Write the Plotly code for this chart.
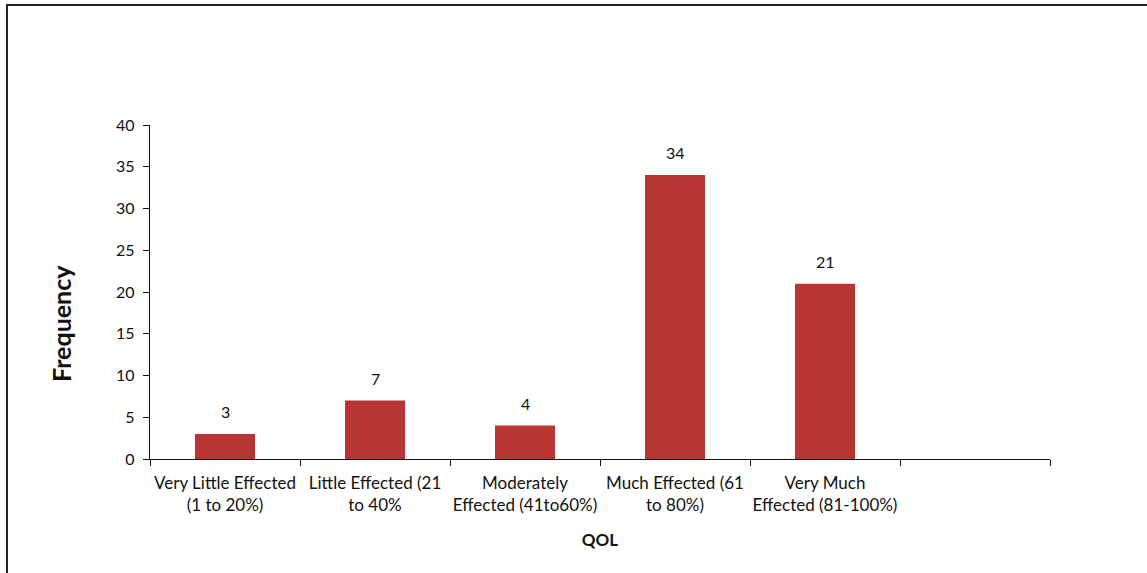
import plotly.graph_objects as go

# QOL categories and respondent counts
categories = [
    "Very Little Effected<br>(1 to 20%)",
    "Little Effected (21<br>to 40%",
    "Moderately<br>Effected (41to60%)",
    "Much Effected (61<br>to 80%)",
    "Very Much<br>Effected (81-100%)",
]
frequency = [3, 7, 4, 34, 21]
# an extra empty slot on the right of the category axis
axis_slots = categories + [" "]
y_ticks = [0, 5, 10, 15, 20, 25, 30, 35, 40]

W, H = 1147, 573
ML, MR, MT, MB = 150, 97, 125, 114
PW, PH = W - ML - MR, H - MT - MB


def px_x(px):
    return (px - ML) / PW


def px_y(py):
    return (H - MB - py) / PH


FONT = "Lato, 'Liberation Sans', Arial, sans-serif"
INK = "#111111"

fig = go.Figure()
fig.add_trace(go.Bar(
    x=categories,
    y=frequency,
    width=0.4,
    marker=dict(color="#b73532", line=dict(width=0)),
    hoverinfo="x+y",
))

for c, v in zip(categories, frequency):
    fig.add_annotation(
        x=c, y=v, xref="x", yref="y", text=str(v), showarrow=False,
        yanchor="bottom", yshift=11, font=dict(family=FONT, size=16, color=INK),
    )

# y-axis title, set a little below the middle of the axis
fig.add_annotation(
    x=px_x(61), y=px_y(324), xref="paper", yref="paper",
    text="<b>Frequency</b>", textangle=-90, showarrow=False,
    xanchor="center", yanchor="middle",
    font=dict(family=FONT, size=25, color=INK),
)

# outer frame of the figure
frame = dict(color="#222222", width=2)
fig.add_shape(type="line", xref="paper", yref="paper",
              x0=px_x(7), x1=px_x(7), y0=px_y(5), y1=px_y(600), line=frame)
fig.add_shape(type="line", xref="paper", yref="paper",
              x0=px_x(6), x1=px_x(1160), y0=px_y(5), y1=px_y(5), line=frame)

fig.update_layout(
    width=W, height=H,
    margin=dict(l=ML, r=MR, t=MT, b=MB),
    paper_bgcolor="white", plot_bgcolor="white",
    showlegend=False,
    font=dict(family=FONT, size=16, color=INK),
    xaxis=dict(
        type="category",
        categoryorder="array", categoryarray=axis_slots,
        range=[-0.5, 5.5],
        tickson="boundaries",
        tickangle=0, automargin=False,
        ticks="outside", ticklen=6, tickwidth=1.3, tickcolor=INK,
        ticklabelstandoff=8,
        showline=True, linecolor=INK, linewidth=1.3,
        showgrid=False, zeroline=False,
        tickfont=dict(family=FONT, size=17, color=INK),
        title=dict(text="<b>QOL</b>", font=dict(family=FONT, size=17, color=INK), standoff=20),
    ),
    yaxis=dict(
        range=[0, 40],
        tickvals=y_ticks,
        automargin=False,
        ticks="outside", ticklen=6, tickwidth=1.3, tickcolor=INK,
        ticklabelstandoff=5,
        showline=True, linecolor=INK, linewidth=1.3,
        showgrid=False, zeroline=False,
        tickfont=dict(family=FONT, size=16, color=INK),
    ),
)

fig.write_html("out.html")
